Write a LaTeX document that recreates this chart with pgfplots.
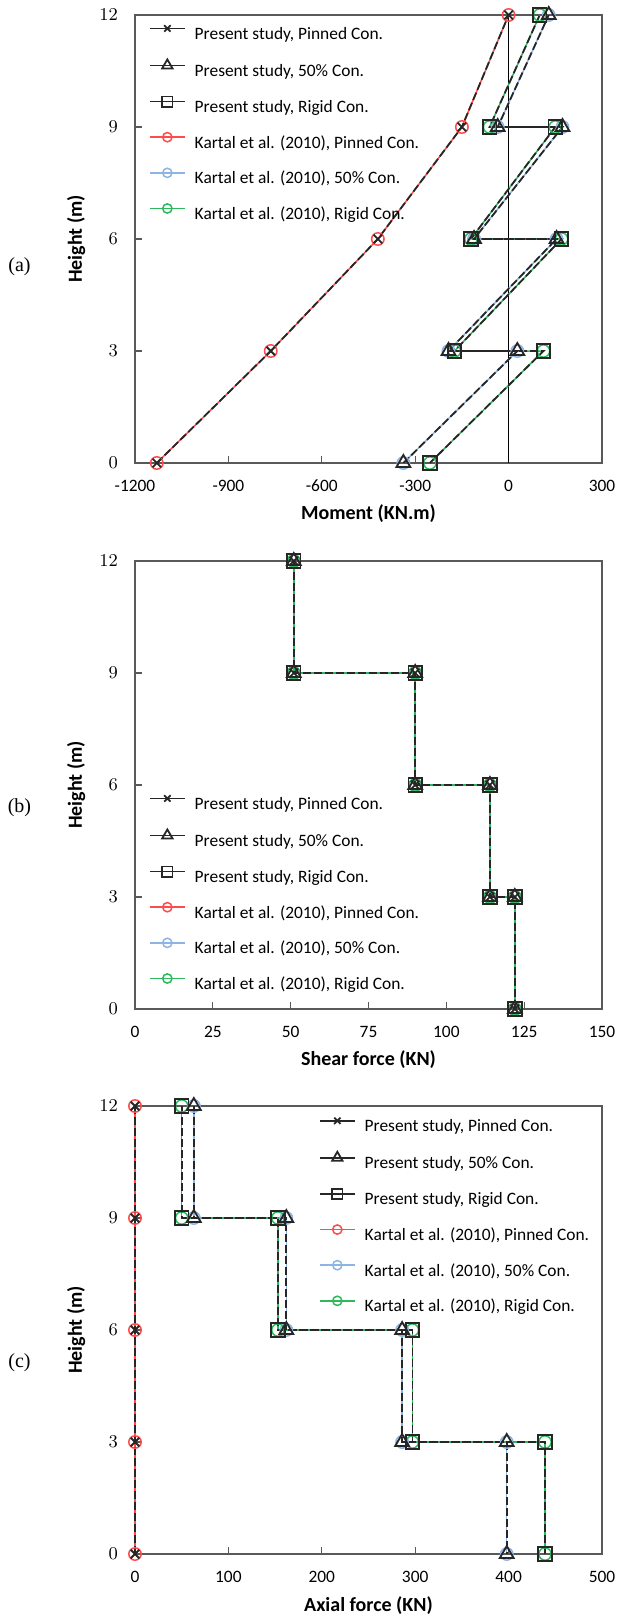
\documentclass[border=0pt]{standalone}
\usepackage{fontspec}
\setmainfont{Carlito}
\newfontfamily\serif{Liberation Serif}
\usepackage{pgfplots}
\pgfplotsset{compat=1.18}

\definecolor{kred}{HTML}{FF4B4B}
\definecolor{kblue}{HTML}{8DB4E2}
\definecolor{kgreen}{HTML}{2EB85C}
\definecolor{frame}{HTML}{595959}

\newcommand{\tfont}{\fontsize{8.7}{10}\selectfont}
\newcommand{\lfont}{\bfseries\fontsize{10}{12}\selectfont}

\pgfplotsset{
  panel/.style={
    scale only axis, width=233.5pt, height=224pt, anchor=south west,
    ymin=0, ymax=12, ytick={0,3,6,9,12},
    axis line style={frame, line width=0.75pt},
    xtick pos=bottom, ytick pos=left,
    tick style={frame, line width=0.6pt}, major tick length=3.5pt,
    tick label style={font=\tfont},
    yticklabel style={xshift=-5pt},
    xticklabel style={yshift=-5pt},
    every axis x label/.style={at={(axis description cs:0.5,-0.114)}, anchor=center, font=\lfont},
    every axis y label/.style={at={(axis description cs:-0.126,0.5)}, anchor=center, rotate=90, font=\lfont},
    clip=false,
    legend cell align=left,
    legend style={draw=none, fill=none, anchor=north west, inner sep=0pt,
      font=\tfont, row sep=8pt, column sep=4.5pt,
      nodes={inner sep=0pt, text height=7pt, text depth=2pt}},
    legend image code/.code={
      \draw[mark repeat=2, mark phase=2, ##1, solid, every mark/.append style={scale=0.75}]
        plot coordinates {(0pt,3pt) (8.75pt,3pt) (17.5pt,3pt)};},
  },
  ps/.style={black!85, line width=0.9pt, dash pattern=on 4pt off 1.5pt,
    mark options={solid, line width=0.9pt}},
  px/.style={ps, mark=x, mark size=3pt},
  pt/.style={ps, mark=triangle, mark size=4pt},
  pq/.style={ps, mark=square, mark size=3.4pt},
  kt/.style={line width=0.75pt, mark=o, mark size=3.1pt, mark options={solid}},
}

\begin{document}
\begin{tikzpicture}
\path[use as bounding box] (0,0) rectangle (308pt,-807.5pt);

% (a) moment
\begin{axis}[panel, at={(67.5pt,-231.5pt)},
  xmin=-1200, xmax=300, xtick={-1200,-900,-600,-300,0,300},
  xticklabels={-1200,-900,-600,-300,0,300},
  xlabel={Moment (KN.m)}, ylabel={Height (m)},
  legend style={at={(axis description cs:0.029,0.978)}}]
\addplot[black, line width=0.6pt, forget plot] coordinates {(0,0) (0,12)};
\addplot[kt, kred, forget plot] coordinates {(-1130,0) (-764,3) (-420,6) (-150,9) (0,12)};
\addplot[kt, kblue, forget plot] coordinates {(-338,0) (28,3) (-193,3) (154,6) (-111,6) (173,9) (-35,9) (129,12)};
\addplot[kt, kgreen, forget plot] coordinates {(-253,0) (112,3) (-174,3) (170,6) (-121,6) (150,9) (-61,9) (100,12)};
\addplot[px] coordinates {(-1130,0) (-764,3) (-420,6) (-150,9) (0,12)};
\addlegendentry{Present study, Pinned Con.}
\addplot[pt] coordinates {(-338,0) (28,3) (-193,3) (154,6) (-111,6) (173,9) (-35,9) (129,12)};
\addlegendentry{Present study, 50\% Con.}
\addplot[pq] coordinates {(-253,0) (112,3) (-174,3) (170,6) (-121,6) (150,9) (-61,9) (100,12)};
\addlegendentry{Present study, Rigid Con.}
\addlegendimage{kt, kred}
\addlegendentry{Kartal et al. (2010), Pinned Con.}
\addlegendimage{kt, kblue}
\addlegendentry{Kartal et al. (2010), 50\% Con.}
\addlegendimage{kt, kgreen}
\addlegendentry{Kartal et al. (2010), Rigid Con.}
\end{axis}

% (b) shear force
\begin{axis}[panel, at={(67.5pt,-504.5pt)},
  xmin=0, xmax=150, xtick={0,25,50,75,100,125,150},
  xticklabels={0,25,50,75,100,125,150},
  xlabel={Shear force (KN)}, ylabel={Height (m)},
  legend style={at={(axis description cs:0.029,0.478)}}]
\addplot[kt, kred, forget plot] coordinates {(51,12) (51,9) (90,9) (90,6) (114,6) (114,3) (122,3) (122,0)};
\addplot[kt, kblue, forget plot] coordinates {(51,12) (51,9) (90,9) (90,6) (114,6) (114,3) (122,3) (122,0)};
\addplot[kt, kgreen, forget plot] coordinates {(51,12) (51,9) (90,9) (90,6) (114,6) (114,3) (122,3) (122,0)};
\addplot[px] coordinates {(51,12) (51,9) (90,9) (90,6) (114,6) (114,3) (122,3) (122,0)};
\addlegendentry{Present study, Pinned Con.}
\addplot[pt] coordinates {(51,12) (51,9) (90,9) (90,6) (114,6) (114,3) (122,3) (122,0)};
\addlegendentry{Present study, 50\% Con.}
\addplot[pq] coordinates {(51,12) (51,9) (90,9) (90,6) (114,6) (114,3) (122,3) (122,0)};
\addlegendentry{Present study, Rigid Con.}
\addlegendimage{kt, kred}
\addlegendentry{Kartal et al. (2010), Pinned Con.}
\addlegendimage{kt, kblue}
\addlegendentry{Kartal et al. (2010), 50\% Con.}
\addlegendimage{kt, kgreen}
\addlegendentry{Kartal et al. (2010), Rigid Con.}
\end{axis}

% (c) axial force
\begin{axis}[panel, at={(67.5pt,-777pt)},
  xmin=0, xmax=500, xtick={0,100,200,300,400,500},
  xticklabels={0,100,200,300,400,500},
  xlabel={Axial force (KN)}, ylabel={Height (m)},
  legend style={at={(axis description cs:0.393,0.975)}}]
\addplot[kt, kred, forget plot] coordinates {(0,0) (0,3) (0,6) (0,9) (0,12)};
\addplot[kt, kblue, forget plot] coordinates {(63,12) (63,9) (162,9) (162,6) (286,6) (286,3) (398,3) (398,0)};
\addplot[kt, kgreen, forget plot] coordinates {(50,12) (50,9) (153,9) (153,6) (297,6) (297,3) (439,3) (439,0)};
\addplot[px] coordinates {(0,0) (0,3) (0,6) (0,9) (0,12)};
\addlegendentry{Present study, Pinned Con.}
\addplot[pt] coordinates {(63,12) (63,9) (162,9) (162,6) (286,6) (286,3) (398,3) (398,0)};
\addlegendentry{Present study, 50\% Con.}
\addplot[pq] coordinates {(50,12) (50,9) (153,9) (153,6) (297,6) (297,3) (439,3) (439,0)};
\addlegendentry{Present study, Rigid Con.}
\addlegendimage{kt, kred}
\addlegendentry{Kartal et al. (2010), Pinned Con.}
\addlegendimage{kt, kblue}
\addlegendentry{Kartal et al. (2010), 50\% Con.}
\addlegendimage{kt, kgreen}
\addlegendentry{Kartal et al. (2010), Rigid Con.}
\end{axis}

\node[font=\serif\fontsize{10}{12}\selectfont] at (9.75pt,-133.5pt) {(a)};
\node[font=\serif\fontsize{10}{12}\selectfont] at (9.75pt,-404pt) {(b)};
\node[font=\serif\fontsize{10}{12}\selectfont] at (9.75pt,-681.5pt) {(c)};
\end{tikzpicture}
\end{document}
